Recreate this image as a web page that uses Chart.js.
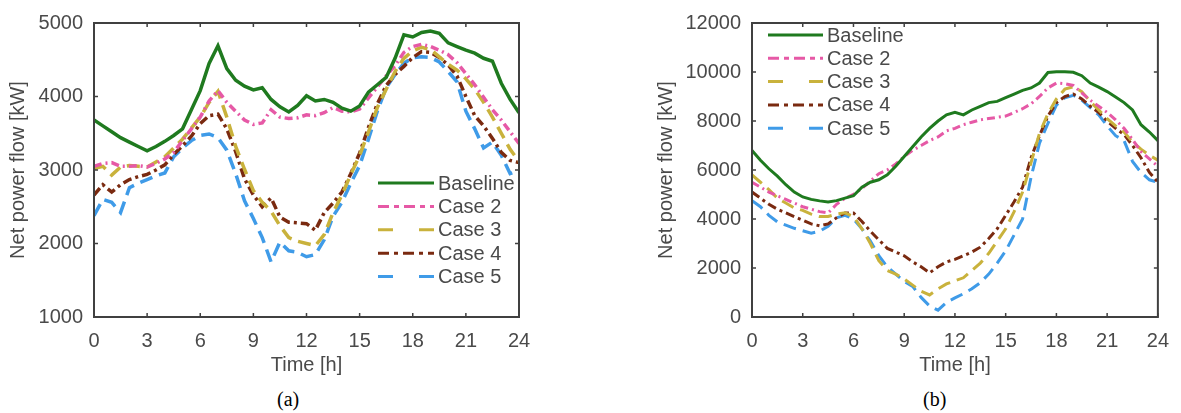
<!DOCTYPE html>
<html><head><meta charset="utf-8">
<script src="https://cdn.jsdelivr.net/npm/chart.js@4.4.0/dist/chart.umd.min.js"></script>
<style>
html,body{margin:0;padding:0;background:#fff;width:1181px;height:413px;overflow:hidden;position:relative;}
#ca{position:absolute;left:0;top:0;}
#cb{position:absolute;left:620px;top:0;}
.cap{position:absolute;top:387px;line-height:24px;font-family:"Liberation Serif","Times New Roman",serif;font-size:20px;color:#000;}
</style></head>
<body>
<canvas id="ca" width="600" height="380"></canvas>
<canvas id="cb" width="561" height="380"></canvas>
<div class="cap" style="left:277px">(a)</div>
<div class="cap" style="left:923px">(b)</div>
<script>
// ---- data ----
const hours = [0,0.5,1,1.5,2,2.5,3,3.5,4,4.5,5,5.5,6,6.5,7,7.5,8,8.5,9,9.5,10,10.5,11,11.5,12,12.5,13,13.5,14,14.5,15,15.5,16,16.5,17,17.5,18,18.5,19,19.5,20,20.5,21,21.5,22,22.5,23,23.5,24];
const seriesNames = ["Baseline","Case 2","Case 3","Case 4","Case 5"];
const xTicks = [0,3,6,9,12,15,18,21,24];

// (a)
const baselineA = [3680,3600,3520,3440,3380,3320,3260,3320,3390,3470,3560,3820,4080,4450,4690,4380,4220,4140,4090,4120,3960,3860,3790,3880,4010,3940,3960,3920,3840,3800,3870,4060,4160,4260,4520,4840,4810,4870,4890,4860,4730,4680,4630,4590,4520,4480,4180,3960,3780];
const case2A = [3050,3090,3100,3050,3050,3060,3040,3090,3150,3240,3400,3560,3720,3940,4080,3920,3800,3680,3620,3640,3820,3720,3700,3710,3750,3740,3780,3850,3800,3790,3830,3980,4130,4280,4420,4600,4680,4710,4680,4630,4570,4460,4310,4160,3990,3820,3680,3520,3360];
const case3A = [3020,3050,2930,3040,3060,3050,3040,3110,3180,3300,3420,3570,3720,3920,4070,3720,3320,3010,2720,2560,2440,2240,2080,2030,2000,1970,2120,2420,2660,2940,3200,3520,3850,4100,4340,4520,4620,4670,4640,4540,4440,4360,4240,4100,3920,3720,3500,3280,3120];
const case4A = [2660,2800,2700,2800,2870,2910,2940,3000,3070,3210,3330,3460,3630,3740,3760,3560,3250,2880,2660,2500,2620,2360,2290,2280,2270,2180,2420,2550,2700,2950,3230,3580,3900,4150,4300,4410,4530,4610,4600,4530,4430,4280,4000,3740,3600,3430,3240,3130,3100];
const case5A = [2380,2600,2560,2420,2760,2820,2870,2920,2960,3180,3300,3400,3470,3490,3440,3270,2950,2580,2340,2080,1750,2020,1900,1880,1820,1850,2050,2370,2560,2820,3060,3420,3800,4120,4300,4450,4530,4540,4530,4470,4340,4200,3800,3560,3300,3380,3200,2950,2990];
const yTicksA = [1000,2000,3000,4000,5000];

// (b)
const baselineB = [6800,6400,6050,5750,5400,5100,4900,4800,4740,4690,4750,4850,4950,5300,5500,5600,5800,6150,6550,6950,7350,7700,8000,8250,8350,8250,8450,8600,8750,8800,8950,9100,9250,9350,9550,9980,10010,10010,9990,9850,9550,9380,9200,8980,8750,8450,7850,7550,7200];
const case2B = [5500,5300,5100,4950,4800,4650,4500,4400,4300,4250,4600,4850,5000,5250,5550,5850,6000,6250,6550,6800,7000,7200,7350,7600,7700,7850,7950,8050,8100,8150,8200,8350,8500,8700,9000,9350,9550,9520,9450,9150,8850,8600,8350,8050,7700,7250,6750,6450,6150];
const case3B = [5800,5500,5200,4850,4650,4450,4350,4200,4100,4100,4200,4250,4100,3600,3000,2300,1900,1750,1550,1300,1050,900,1150,1350,1480,1600,1900,2200,2600,3100,3600,4300,5100,6300,7500,8300,8900,9300,9400,9200,8800,8450,8100,7800,7550,7150,6850,6600,6400];
const case4B = [5100,4850,4600,4400,4250,4100,3950,3800,3720,3800,4050,4250,4250,3900,3500,3150,2800,2650,2500,2250,2050,1800,2050,2250,2350,2500,2650,2850,3200,3600,4150,4700,5300,6500,7400,8200,8750,9000,9100,8900,8600,8350,8000,7700,7450,7000,6500,5900,5500];
const case5B = [4750,4500,4150,3880,3750,3620,3520,3420,3500,3700,4050,4150,4000,3600,3100,2500,2050,1750,1450,1250,800,450,280,600,780,950,1150,1400,1750,2200,2700,3350,4000,5700,7100,7900,8650,8950,9050,8850,8550,8250,7800,7400,7200,6350,5900,5600,5500];
const yTicksB = [0,2000,4000,6000,8000,10000,12000];

// ---- styles ----
const colors = ["#1f7a1f","#e659a6","#c9b23c","#7a2a10","#3f9be8"];
const dashes = [[],[8,4,2,4],[13,7],[9,4,3,4],[13,7]];
const legendDashes = [[],[11,5,5,5],[15,26],[11,5,4,5],[15,26]];
const FONT = '"Liberation Sans", Arial, sans-serif';
const TXT = '#4a4a4a';

const framePlugin = {
  id: 'frame',
  afterDatasetsDraw(chart, args, opts) {
    const {ctx, chartArea:{left,right,top,bottom}, scales:{x,y}} = chart;
    ctx.save();
    ctx.strokeStyle = '#404040';
    ctx.lineWidth = 2;
    ctx.setLineDash([]);
    ctx.strokeRect(left, top, right-left, bottom-top);
    ctx.lineWidth = 1.5;
    ctx.beginPath();
    x.ticks.forEach(t => { const p = x.getPixelForValue(t.value);
      ctx.moveTo(p,bottom); ctx.lineTo(p,bottom-4); ctx.moveTo(p,top); ctx.lineTo(p,top+4); });
    y.ticks.forEach(t => { const p = y.getPixelForValue(t.value);
      ctx.moveTo(left,p); ctx.lineTo(left+4,p); ctx.moveTo(right,p); ctx.lineTo(right-4,p); });
    ctx.stroke();
    // legend
    ctx.font = '20px ' + FONT;
    ctx.textBaseline = 'middle';
    ctx.textAlign = 'left';
    chart.data.datasets.forEach((ds, i) => {
      const yy = opts.y0 + i*opts.dy;
      ctx.strokeStyle = ds.borderColor;
      ctx.lineWidth = 3;
      ctx.setLineDash(legendDashes[i]);
      ctx.beginPath(); ctx.moveTo(opts.x0, yy); ctx.lineTo(opts.x1, yy); ctx.stroke();
      ctx.setLineDash([]);
      ctx.fillStyle = TXT;
      ctx.fillText(ds.label, opts.tx, yy+1);
    });
    ctx.restore();
  }
};

function makeChart(id, series, yTicks, yMin, yMax, yWidth, pad, leg, yTitlePad, lw) {
  const datasets = series.map((arr, i) => ({
    label: seriesNames[i],
    data: hours.map((h, k) => ({x: h, y: arr[k]})),
    borderColor: colors[i],
    backgroundColor: colors[i],
    borderWidth: lw,
    borderDash: dashes[i],
    pointRadius: 0,
    tension: 0,
    fill: false
  }));
  return new Chart(document.getElementById(id), {
    type: 'line',
    data: {datasets},
    plugins: [framePlugin],
    options: {
      responsive: false,
      devicePixelRatio: 1,
      animation: false,
      layout: {padding: pad},
      plugins: {legend: {display: false}, tooltip: {enabled: false}, frame: leg},
      scales: {
        x: {
          type: 'linear', min: 0, max: 24,
          afterBuildTicks: s => { s.ticks = xTicks.map(v => ({value: v})); },
          afterFit: s => { s.height = 63; },
          grid: {display: false, drawTicks: false},
          border: {display: false},
          ticks: {color: TXT, font: {family: FONT, size: 20}, padding: 12, autoSkip: false, maxRotation: 0},
          title: {display: true, text: 'Time [h]', color: TXT, font: {family: FONT, size: 20}, padding: {top: 0, bottom: 3}}
        },
        y: {
          type: 'linear', min: yMin, max: yMax,
          afterBuildTicks: s => { s.ticks = yTicks.map(v => ({value: v})); },
          afterFit: s => { s.width = yWidth; },
          grid: {display: false, drawTicks: false},
          border: {display: false},
          ticks: {color: TXT, font: {family: FONT, size: 20}, padding: 11, callback: v => String(v)},
          title: {display: true, text: 'Net power flow [kW]', color: TXT, font: {family: FONT, size: 20}, padding: {top: yTitlePad, bottom: 0}}
        }
      }
    }
  });
}

makeChart('ca', [baselineA, case2A, case3A, case4A, case5A], yTicksA, 1000, 5000, 94,
  {left: 0, top: 15, right: 81, bottom: 0},
  {x0: 378, x1: 434, tx: 438, y0: 183, dy: 23.4}, 6, 3.5);
makeChart('cb', [baselineB, case2B, case3B, case4B, case5B], yTicksB, 0, 12000, 132,
  {left: 0, top: 17, right: 16, bottom: 0},
  {x0: 148, x1: 203, tx: 207, y0: 35, dy: 23.3}, 34, 3);
</script>
</body></html>
